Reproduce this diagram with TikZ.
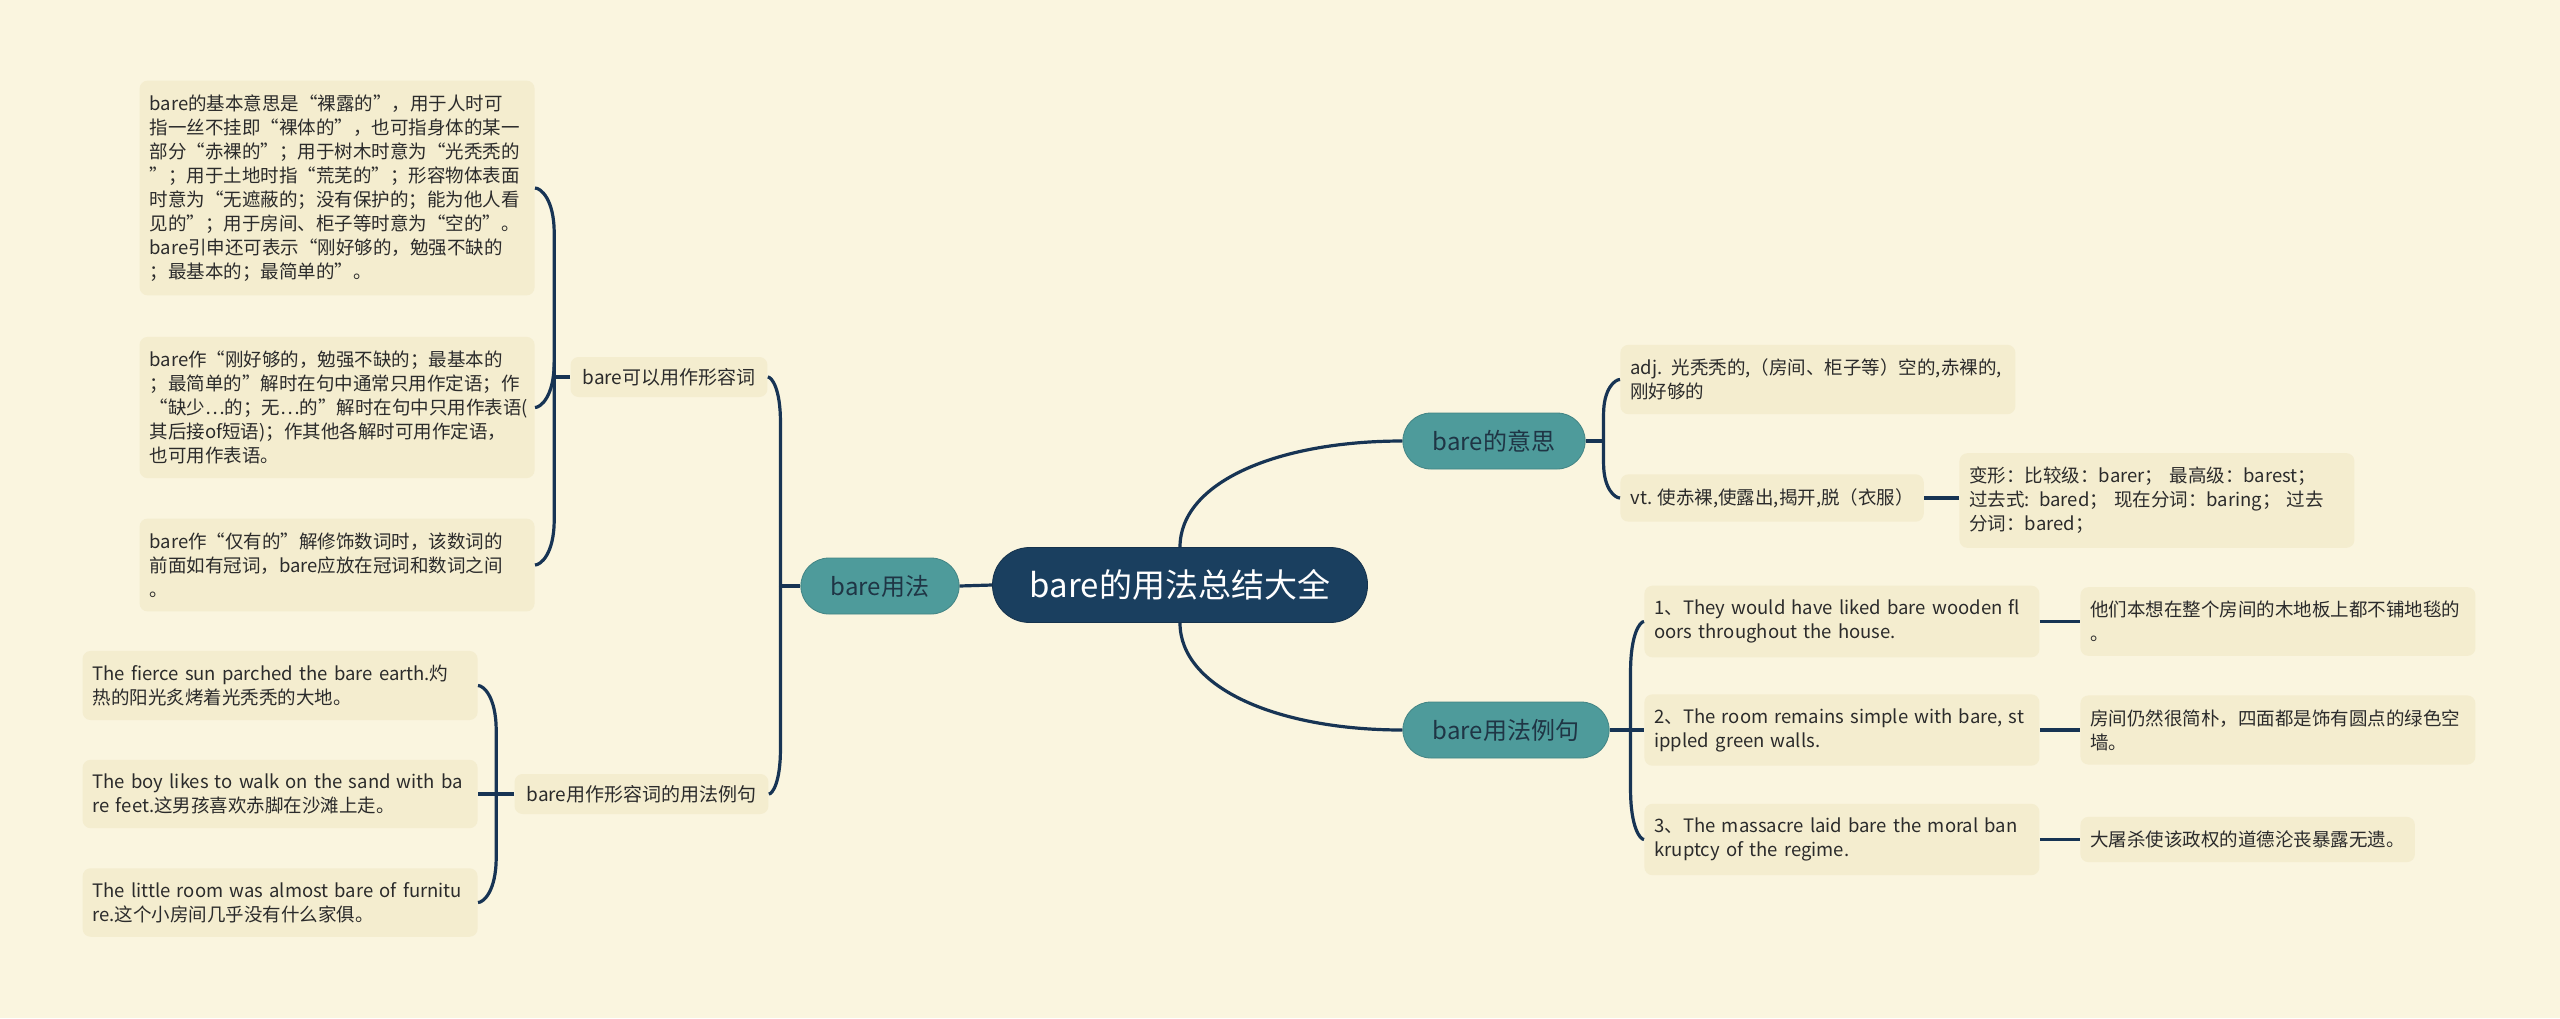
\documentclass[tikz,border=0pt]{standalone}
\usepackage{fontspec}
\setmainfont{Noto Sans CJK SC}
\usepackage{tikz}
\usetikzlibrary{calc}
\definecolor{paper}{HTML}{FAF5DF}
\definecolor{leafcol}{HTML}{F4EDCF}
\definecolor{linecol}{HTML}{173454}
\definecolor{rootcol}{HTML}{1A3F5F}
\definecolor{topiccol}{HTML}{4E9B9B}
\definecolor{topicink}{HTML}{1F3545}
\definecolor{inkcol}{HTML}{2B2B2B}
% bracket branch: junction, child anchor, length of the straight part's gap
\newcommand{\hooklink}[3]{\draw[link] (#1) -- ($(#1 |- #2)+(0,#3)$) .. controls ($(#1 |- #2)+(0,#3*0.25)$) and ($(#2)!0.3!(#1 |- #2)$) .. (#2);}

\begin{document}
\begin{tikzpicture}[x=0.5pt, y=-0.5pt,
  link/.style={draw=linecol, line width=1.6pt},
  rootnode/.style={fill=rootcol, draw=rootcol!80!black, rounded corners=18.5pt, minimum width=187.5pt, minimum height=37.5pt, text=white, font=\fontsize{16.5pt}{20pt}\selectfont},
  topic/.style={fill=topiccol, draw=topiccol!85!black, rounded corners=14pt, minimum height=28pt, inner xsep=15pt, text=topicink, font=\fontsize{12pt}{14pt}\selectfont},
  subtopic/.style={fill=leafcol, rounded corners=4pt, inner xsep=6pt, minimum height=20pt, text=inkcol, font=\fontsize{9.5pt}{11pt}\selectfont},
  leaf/.style={fill=leafcol, rounded corners=4pt, inner xsep=5pt, inner ysep=7pt, text width=187.5pt, align=left, text=inkcol, font=\fontsize{9.25pt}{12pt}\selectfont},
  shortleaf/.style={leaf, text width=}]
  \fill[paper] (0,0) rectangle (2560,1018);
  \useasboundingbox (0,0) rectangle (2560,1018);

  % nodes
  \node [rootnode] (root) at (1180,585) {bare的用法总结大全};
  \node [topic] (usage) at (880,586) {bare用法};
  \node [topic] (meaning) at (1494,441) {bare的意思};
  \node [topic] (usageEx) at (1506,730) {bare用法例句};

  \node [subtopic] (adjA) at (669,377) {bare可以用作形容词};
  \node [subtopic] (exA) at (641.5,794) {bare用作形容词的用法例句};

  \node [leaf, anchor=east] (L1) at (535,188) {bare的基本意思是“裸露的”，用于人时可\\指一丝不挂即“裸体的”，也可指身体的某一\\部分“赤裸的”；用于树木时意为“光秃秃的\\”；用于土地时指“荒芜的”；形容物体表面\\时意为“无遮蔽的；没有保护的；能为他人看\\见的”；用于房间、柜子等时意为“空的”。\\bare引申还可表示“刚好够的，勉强不缺的\\；最基本的；最简单的”。};
  \node [leaf, anchor=east] (L2) at (535,407.5) {bare作“刚好够的，勉强不缺的；最基本的\\；最简单的”解时在句中通常只用作定语；作\\“缺少…的；无…的”解时在句中只用作表语(\\其后接of短语)；作其他各解时可用作定语，\\也可用作表语。};
  \node [leaf, anchor=east] (L3) at (535,565) {bare作“仅有的”解修饰数词时，该数词的\\前面如有冠词，bare应放在冠词和数词之间\\。};

  \node [leaf, anchor=east] (E1) at (478,685.5) {The fierce sun parched the bare earth.灼\\热的阳光炙烤着光秃秃的大地。};
  \node [leaf, anchor=east] (E2) at (478,794) {The boy likes to walk on the sand with ba\\re feet.这男孩喜欢赤脚在沙滩上走。};
  \node [leaf, anchor=east] (E3) at (478,902.5) {The little room was almost bare of furnitu\\re.这个小房间几乎没有什么家俱。};

  \node [leaf, anchor=west] (R1) at (1620,379.5) {adj. 光秃秃的,（房间、柜子等）空的,赤裸的,\\刚好够的};
  \node [shortleaf, anchor=west] (R2) at (1620,498) {vt. 使赤裸,使露出,揭开,脱（衣服）};
  \node [leaf, anchor=west] (R3) at (1959,500.5) {变形：比较级：barer；\ 最高级：barest；\\过去式: bared；\ 现在分词：baring；\ 过去\\分词：bared；};

  \node [leaf, anchor=west] (S1) at (1644,621.5) {1、They would have liked bare wooden fl\\oors throughout the house.};
  \node [leaf, anchor=west] (S2) at (1644,730) {2、The room remains simple with bare, st\\ippled green walls.};
  \node [leaf, anchor=west] (S3) at (1644,839.5) {3、The massacre laid bare the moral ban\\kruptcy of the regime.};

  \node [leaf, anchor=west] (T1) at (2080,621.5) {他们本想在整个房间的木地板上都不铺地毯的\\。};
  \node [leaf, anchor=west] (T2) at (2080,730) {房间仍然很简朴，四面都是饰有圆点的绿色空\\墙。};
  \node [shortleaf, anchor=west] (T3) at (2080,839.5) {大屠杀使该政权的道德沦丧暴露无遗。};

  % edges
  \draw [link] (root.west) -- (usage.east);
  \draw [link] (root.north) .. controls +(0,-65) and +(-125,0) .. (meaning.west);
  \draw [link] (root.south) .. controls +(0,65) and +(-125,0) .. (usageEx.west);

  \draw [link] (usage.west) -- ++(-20,0) coordinate (ju);
  \hooklink{ju}{adjA.east}{45}
  \hooklink{ju}{exA.east}{-45}

  \draw [link] (adjA.west) -- ++(-16,0) coordinate (ja);
  \hooklink{ja}{L1.east}{45}
  \hooklink{ja}{L2.east}{-45}
  \hooklink{ja}{L3.east}{-45}

  \draw [link] (exA.west) -- ++(-18,0) coordinate (je);
  \hooklink{je}{E1.east}{45}
  \draw [link] (je) -- (E2.east);
  \hooklink{je}{E3.east}{-45}

  \draw [link] (meaning.east) -- ++(18,0) coordinate (jm);
  \hooklink{jm}{R1.west}{35}
  \hooklink{jm}{R2.west}{-35}
  \draw [link] (R2.east) -- (R2.east -| R3.west);

  \draw [link] (usageEx.east) -- ++(21,0) coordinate (jx);
  \hooklink{jx}{S1.west}{50}
  \draw [link] (jx) -- (S2.west);
  \hooklink{jx}{S3.west}{-50}
  \draw [link] (S1.east) -- (T1.west);
  \draw [link] (S2.east) -- (T2.west);
  \draw [link] (S3.east) -- (T3.west);
\end{tikzpicture}
\end{document}
